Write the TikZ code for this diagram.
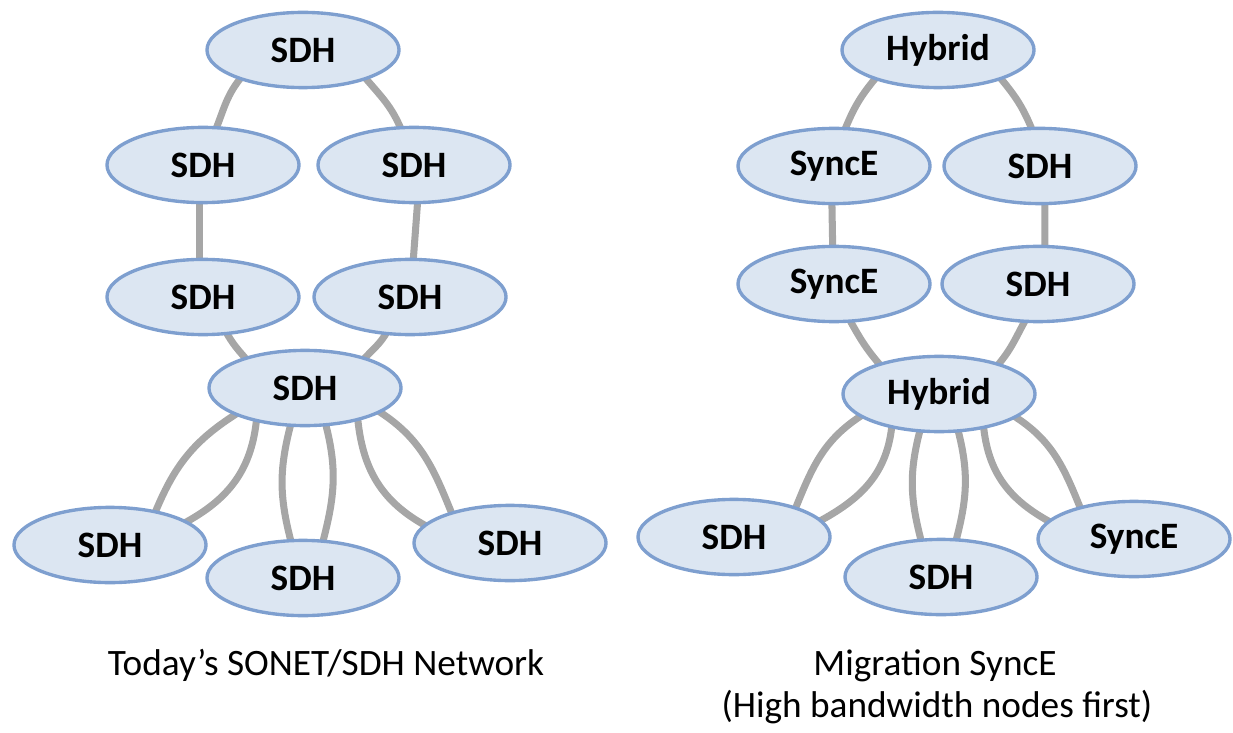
\documentclass[tikz,border=0pt]{standalone}
\usepackage{fontspec}
\setmainfont{Carlito}
\usetikzlibrary{shapes.geometric,backgrounds}
\definecolor{nodefill}{HTML}{DCE6F2}
\definecolor{nodeline}{HTML}{7E9FCF}
\definecolor{linkgray}{HTML}{A6A6A6}
\tikzset{
  netnode/.style={ellipse,draw=nodeline,fill=nodefill,line width=2.4pt,minimum width=4.8cm,minimum height=1.88cm,inner sep=0pt,font=\fontsize{26.5}{30}\selectfont\bfseries},
  link/.style={draw=linkgray,line width=5pt,shorten <=-4pt,shorten >=-4pt},
  caption/.style={anchor=base,font=\fontsize{26.5}{30}\selectfont}
}
\begin{document}
\begin{tikzpicture}[x=0.025cm,y=0.025cm]
    \useasboundingbox (0,0) rectangle (1233,732);
    \node[netnode] (ltop) at (303,682) {SDH};
    \node[netnode] (ll1) at (203,567) {SDH};
    \node[netnode] (lr1) at (414,567) {SDH};
    \node[netnode] (ll2) at (203,435) {SDH};
    \node[netnode] (lr2) at (410,435) {SDH};
    \node[netnode] (lhub) at (305,344) {SDH};
    \node[netnode] (lbl) at (110,187) {SDH};
    \node[netnode] (lbm) at (303,154) {SDH};
    \node[netnode] (lbr) at (510,189) {SDH};
    \node[netnode] (rtop) at (938,682) {Hybrid};
    \node[netnode] (rl1) at (834,566) {SyncE};
    \node[netnode] (rr1) at (1040,566) {SDH};
    \node[netnode] (rl2) at (834,448) {SyncE};
    \node[netnode] (rr2) at (1038,448) {SDH};
    \node[netnode] (rhub) at (939,338) {Hybrid};
    \node[netnode] (rbl) at (734,195) {SDH};
    \node[netnode] (rbm) at (941,155) {SDH};
    \node[netnode] (rbr) at (1134,193) {SyncE};
    \node[caption] (lcap) at (326,57) {Today’s SONET/SDH Network};
    \node[caption] (rcap) at (935,57) {Migration SyncE};
    \node[caption] (rcapb) at (937,15) {(High bandwidth nodes first)};
    \begin{scope}[on background layer]
      \draw[link] (ltop.205) to[out=230,in=68] (ll1.70);
      \draw[link] (ltop.335) to[out=310,in=112] (lr1.110);
      \draw[link] (ll1.265) -- (ll2.95);
      \draw[link] (lr1.275) -- (lr2.85);
      \draw[link] (ll2.303) to[out=299,in=131] (lhub.153);
      \draw[link] (lr2.237) to[out=241,in=49] (lhub.27);
      \draw[link] (lhub.201) to[out=212,in=68] (lbl.37);
      \draw[link] (lhub.215) to[out=265,in=28] (lbl.17);
      \draw[link] (lhub.249) to[out=255,in=105] (lbm.108);
      \draw[link] (lhub.299) to[out=285,in=75] (lbm.62);
      \draw[link] (lhub.342) to[out=328,in=112] (lbr.152);
      \draw[link] (lhub.328) to[out=275,in=152] (lbr.168);
      \draw[link] (rtop.205) to[out=230,in=68] (rl1.73);
      \draw[link] (rtop.335) to[out=310,in=112] (rr1.103);
      \draw[link] (rl1.267) -- (rl2.92);
      \draw[link] (rr1.277) -- (rr2.80);
      \draw[link] (rl2.294) to[out=299,in=131] (rhub.153);
      \draw[link] (rr2.250) to[out=241,in=49] (rhub.27);
      \draw[link] (rhub.196) to[out=212,in=68] (rbl.26);
      \draw[link] (rhub.216) to[out=265,in=28] (rbl.11);
      \draw[link] (rhub.243) to[out=255,in=105] (rbm.118);
      \draw[link] (rhub.297) to[out=285,in=75] (rbm.68);
      \draw[link] (rhub.343) to[out=328,in=112] (rbr.149);
      \draw[link] (rhub.322) to[out=275,in=152] (rbr.168);
    \end{scope}
\end{tikzpicture}
\end{document}
